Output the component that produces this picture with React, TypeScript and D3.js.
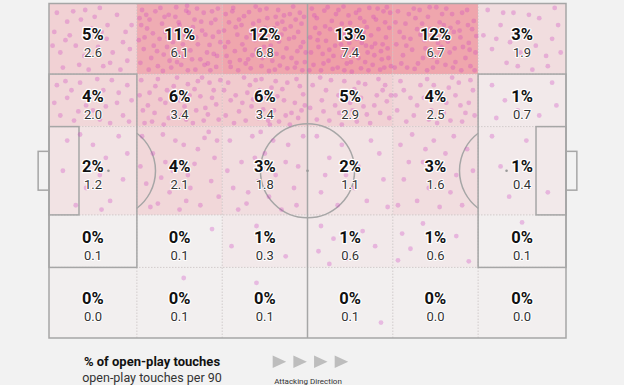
import React from "react";
import * as d3 from "d3";

// ---- data ----
const X_EDGES = [0, 17, 33.5, 50, 66.5, 83, 100];
const Y_EDGES = [0, 21.1, 36.8, 63.2, 78.9, 100];
const SHARE = [
  [5, 11, 12, 13, 12, 3],
  [4, 6, 6, 5, 4, 1],
  [2, 4, 3, 2, 3, 1],
  [0, 0, 1, 1, 1, 0],
  [0, 0, 0, 0, 0, 0],
];
const PER90 = [
  [2.6, 6.1, 6.8, 7.4, 6.7, 1.9],
  [2.0, 3.4, 3.4, 2.9, 2.5, 0.7],
  [1.2, 2.1, 1.8, 1.1, 1.6, 0.4],
  [0.1, 0.1, 0.3, 0.6, 0.6, 0.1],
  [0.0, 0.1, 0.1, 0.1, 0.0, 0.0],
];
const ARROWS = [0, 1, 2, 3];

// touch locations, as position within each cell (0-99 across, 0-99 down), flat x,y pairs
const TOUCHES_ROW1 = [
  [8,12,23,45,41,8,67,30,85,55,12,70,34,88,56,62,78,15,90,82,5,40,48,35,62,90,20,25,73,70,95,30,30,60,52,18,88,40,15,92,40,75,66,50,82,95,3,60,58,5,27,10,70,85,45,95,93,65,18,52,60,40,36,22],
  [5,8,14,22,27,5,33,40,45,18,58,9,66,33,79,12,88,27,96,6,8,48,19,60,31,73,42,55,52,88,63,67,75,80,86,59,94,91,3,85,11,35,24,90,37,15,48,70,57,45,69,95,81,44,91,72,2,20,16,78,29,28,40,92,50,30,61,12,72,58,84,86,97,40,7,65,21,10,35,62,46,4,55,76,68,22,77,38,89,10,99,55,13,95,26,50,38,82,49,26,60,96,71,6,83,70,93,22,4,30,18,42,30,97,44,38,54,58,65,80,76,25,87,96,95,75,10,15,23,68,36,48,47,84,59,2,70,48,80,88,90,47,1,52,32,18,64,42],
  [3,14,12,5,22,30,31,11,43,24,52,6,61,35,73,16,84,3,94,28,6,55,17,44,26,66,38,52,47,78,57,60,68,89,79,50,89,68,98,84,9,91,20,81,33,93,41,39,55,97,64,72,76,64,86,92,92,12,1,38,14,68,25,17,35,74,45,46,53,20,66,8,74,36,82,78,96,55,7,26,18,96,28,48,39,3,49,62,59,82,71,25,80,14,90,40,99,70,4,75,15,33,27,86,36,28,46,90,58,41,67,54,77,93,87,22,95,96,11,10,23,58,34,42,44,8,54,70,63,18,72,77,85,48,93,62,2,62,19,22,30,80,50,34,62,95,70,44,81,32,88,85,97,18,40,66,65,28,8,84],
  [4,6,10,20,19,9,26,36,33,14,42,3,50,27,57,12,66,40,73,5,81,22,90,10,97,34,2,48,12,62,21,53,30,75,39,58,46,86,55,66,63,93,71,70,80,57,88,80,95,64,6,88,15,96,24,82,35,92,44,44,52,98,60,78,69,60,77,88,86,95,93,48,99,90,8,34,17,72,28,24,37,40,48,16,58,50,67,25,75,45,84,36,92,26,3,70,13,42,23,4,32,60,41,76,51,84,61,8,70,33,79,74,89,58,98,12,7,16,18,86,29,94,40,28,49,56,59,36,68,84,78,18,87,68,96,78,11,52,25,66,36,8,45,68,54,40,64,56,72,96,83,6,91,92,1,96,20,32,43,96,62,20,76,62,94,4],
  [5,10,14,28,24,6,32,44,41,18,51,4,60,30,70,14,79,38,88,8,96,24,3,58,11,74,20,50,29,86,38,64,47,92,56,72,65,54,74,84,83,62,92,90,99,46,7,40,16,92,26,20,35,78,44,36,53,56,62,88,72,40,81,96,90,56,98,70,2,26,12,48,22,66,31,8,40,96,49,46,58,14,67,70,77,26,86,78,94,36,9,86,18,14,28,36,37,52,46,76,55,26,64,44,73,64,82,12,91,66,1,92,15,60,25,94,34,28,43,4,52,84,63,6,71,92,80,48,89,30,97,96,39,40,57,62,68,34],
  [10,8,25,30,40,12,55,40,70,20,85,50,15,65,32,85,48,70,62,95,78,75,92,30,5,45,20,50,36,55,66,60,80,90,95,70,45,90,58,15,28,12,88,5],
];
const TOUCHES_ROW2 = [
  [8,20,20,45,35,15,50,70,62,30,78,55,90,20,12,80,28,90,42,60,58,88,72,10,85,80,95,50,5,55,18,12,33,72,47,38,65,62,80,35,92,92,25,30,55,8,70,95],
  [4,10,14,35,24,8,33,55,43,22,53,80,62,40,72,12,81,65,91,30,97,88,6,70,17,92,27,48,37,85,47,5,56,62,66,95,75,42,86,15,94,58,2,40,12,60,21,22,31,98,40,35,50,50,60,18,70,70,79,90,89,45,99,10,8,95,35,30,45,75,58,88,68,28,84,78,20,75,77,5],
  [6,15,15,40,25,5,34,62,44,30,54,90,63,12,73,50,82,75,92,22,98,60,3,80,13,95,23,55,32,20,42,85,52,45,61,70,71,28,80,98,90,85,96,38,9,50,19,72,29,35,39,10,48,68,58,25,67,92,77,15,86,55,1,30,36,48,46,8,56,98,65,42,75,80,88,8,27,90,94,70],
  [5,20,16,50,27,10,37,75,47,35,58,92,68,18,79,60,89,30,97,85,10,88,21,30,32,60,43,12,53,70,63,45,74,95,84,8,94,52,2,65,14,5,25,90,36,40,50,55,60,15,70,78,82,40,92,20,40,98,66,62,18,72,86,75,55,28,99,40],
  [8,12,20,45,32,20,45,70,56,35,68,90,78,15,90,55,97,80,4,70,15,92,28,60,40,8,52,95,63,55,74,40,86,75,95,30,12,30,24,80,36,45,48,20,60,75,70,5,82,92,92,10,2,40,42,88,66,25,80,60],
  [15,20,30,50,55,35,70,80,85,15,20,85,45,70,90,60],
];
const TOUCHES_ROW3 = [
  [35,8,50,20,65,35,42,70,20,15,80,10,58,55,30,90,70,85,85,60,45,45,15,50,90,30,60,95],
  [5,10,18,30,30,8,42,50,55,20,68,42,80,12,92,35,10,65,24,88,38,75,50,95,63,70,75,90,88,62,97,80,3,45,33,40,45,15,60,55,72,25,85,5,15,92,58,85,95,15,28,58],
  [8,15,22,40,35,10,50,30,63,55,78,20,90,45,12,70,28,88,42,62,55,80,70,95,85,70,96,10,5,50,18,95,45,5,60,15,75,40,30,75,88,90,38,35],
  [10,10,25,35,40,20,60,45,75,15,90,60,15,75,35,90,55,70,70,85,85,30,45,55,20,55,95,92],
  [8,20,22,8,35,40,48,15,62,30,75,55,88,25,12,60,28,85,42,70,55,92,68,75,82,90,95,50,5,90,38,25,58,48,72,10,18,40],
  [15,10,25,45,55,15,80,75,35,80],
];
const TOUCHES_ROW4 = [
  [],
  [89,26],
  [10,60,40,20,75,80,55,40],
  [15,20,30,45,12,70,45,85,65,30,80,60,25,95],
  [10,35,20,65,5,88,35,15,55,75,75,40,90,90],
  [50,13],
];
const TOUCHES_ROW5 = [[], [55,14], [40,21], [87,79], [], []];
const TOUCHES = [TOUCHES_ROW1, TOUCHES_ROW2, TOUCHES_ROW3, TOUCHES_ROW4, TOUCHES_ROW5];

// ---- layout ----
const W = 624;
const H = 385;
const x = d3.scaleLinear().domain([0, 100]).range([49, 566]);
const y = d3.scaleLinear().domain([0, 100]).range([3.5, 338]);
const fill = d3
  .scaleLinear<string>()
  .domain([0, 13])
  .range(["#f2efef", "#efa0a8"])
  .interpolate(d3.interpolateRgb);

const LINE = "#a6a6a6";
const FONT = "Roboto, 'DejaVu Sans', sans-serif";

export default function App() {
  const cells: React.ReactNode[] = [];
  const dots: React.ReactNode[] = [];
  const labels: React.ReactNode[] = [];
  for (let r = 0; r < 5; r++) {
    for (let c = 0; c < 6; c++) {
      const x0 = x(X_EDGES[c]);
      const x1 = x(X_EDGES[c + 1]);
      const y0 = y(Y_EDGES[r]);
      const y1 = y(Y_EDGES[r + 1]);
      cells.push(
        <rect key={`c${r}-${c}`} x={x0} y={y0} width={x1 - x0} height={y1 - y0} fill={fill(SHARE[r][c])} />
      );
      const pts = TOUCHES[r][c];
      const lx = d3.scaleLinear().domain([0, 100]).range([x0 + 1, x1 - 1]);
      const ly = d3.scaleLinear().domain([0, 100]).range([y0 + 1, y1 - 1]);
      for (let i = 0; i + 1 < pts.length; i += 2) {
        dots.push(
          <circle key={`d${r}-${c}-${i}`} cx={lx(pts[i])} cy={ly(pts[i + 1])} r={2.4} fill="#cc3fc0" fillOpacity={0.3} />
        );
      }
      const cx = (x0 + x1) / 2;
      const cy = (y0 + y1) / 2;
      labels.push(
        <g key={`t${r}-${c}`} textAnchor="middle" fontFamily={FONT} style={{ paintOrder: "stroke" }}>
          <text x={cx} y={cy + 1.5} fontSize={16.5} fontWeight={700} fill="#111" stroke="#fff" strokeWidth={2.5} strokeLinejoin="round">
            {SHARE[r][c]}%
          </text>
          <text x={cx} y={cy + 18.5} fontSize={13} fontWeight={400} fill="#333" stroke="#fff" strokeWidth={2} strokeLinejoin="round">
            {PER90[r][c].toFixed(1)}
          </text>
        </g>
      );
    }
  }

  const grid: React.ReactNode[] = [];
  X_EDGES.slice(1, -1).forEach((e, i) =>
    grid.push(<line key={`gx${i}`} x1={x(e)} x2={x(e)} y1={y(0)} y2={y(100)} stroke="#c9c2c2" strokeWidth={0.8} strokeDasharray="1.5,1.5" />)
  );
  Y_EDGES.slice(1, -1).forEach((e, i) =>
    grid.push(<line key={`gy${i}`} x1={x(0)} x2={x(100)} y1={y(e)} y2={y(e)} stroke="#c9c2c2" strokeWidth={0.8} strokeDasharray="1.5,1.5" />)
  );

  const R = x(9.1) - x(0);
  const cyMid = y(50);
  const lSpot = x(11.5);
  const rSpot = x(88.5);
  const angL = Math.acos((x(17) - lSpot) / R);
  const angR = Math.acos((rSpot - x(83)) / R);
  const arcL = d3.path();
  arcL.arc(lSpot, cyMid, R, -angL, angL);
  const arcR = d3.path();
  arcR.arc(rSpot, cyMid, R, Math.PI - angR, Math.PI + angR);

  const pitch = (
    <g fill="none" stroke={LINE} strokeWidth={1.5}>
      <rect x={x(0)} y={y(0)} width={x(100) - x(0)} height={y(100) - y(0)} />
      <line x1={x(50)} x2={x(50)} y1={y(0)} y2={y(100)} />
      <circle cx={x(50)} cy={cyMid} r={R} />
      <rect x={x(0)} y={y(21.1)} width={x(17) - x(0)} height={y(78.9) - y(21.1)} />
      <rect x={x(83)} y={y(21.1)} width={x(100) - x(83)} height={y(78.9) - y(21.1)} />
      <rect x={x(0)} y={y(36.8)} width={x(5.8) - x(0)} height={y(63.2) - y(36.8)} />
      <rect x={x(94.2)} y={y(36.8)} width={x(100) - x(94.2)} height={y(63.2) - y(36.8)} />
      <rect x={x(-2.1)} y={y(44.2)} width={x(0) - x(-2.1)} height={y(55.8) - y(44.2)} />
      <rect x={x(100)} y={y(44.2)} width={x(102.1) - x(100)} height={y(55.8) - y(44.2)} />
      <path d={arcL.toString()} />
      <path d={arcR.toString()} />
    </g>
  );

  const spots = [lSpot, x(50), rSpot].map((sx, i) => <circle key={`s${i}`} cx={sx} cy={cyMid} r={1.3} fill="#999" />);

  const triX = d3.scaleLinear().domain([0, 3]).range([272.7, 334.7]);

  return (
    <div style={{ position: "fixed", left: 0, top: 0, width: W, height: H, background: "#f2f2f2" }}>
      <svg width={W} height={H} viewBox={`0 0 ${W} ${H}`} style={{ display: "block" }}>
        <rect width={W} height={H} fill="#f2f2f2" />
        {cells}
        {grid}
        {pitch}
        {spots}
        {dots}
        {labels}
        <g fontFamily={FONT} textAnchor="middle">
          <text x={152} y={366} fontSize={13} fontWeight={700} fill="#111">% of open-play touches</text>
          <text x={152} y={382} fontSize={12.5} fill="#333">open-play touches per 90</text>
          <text x={308} y={384} fontSize={8} fill="#333">Attacking Direction</text>
        </g>
        {ARROWS.map((a) => (
          <path key={`a${a}`} d={`M${triX(a)},355.5 L${triX(a) + 13.5},361.7 L${triX(a)},367.9 Z`} fill="#bdbdbd" />
        ))}
      </svg>
    </div>
  );
}
